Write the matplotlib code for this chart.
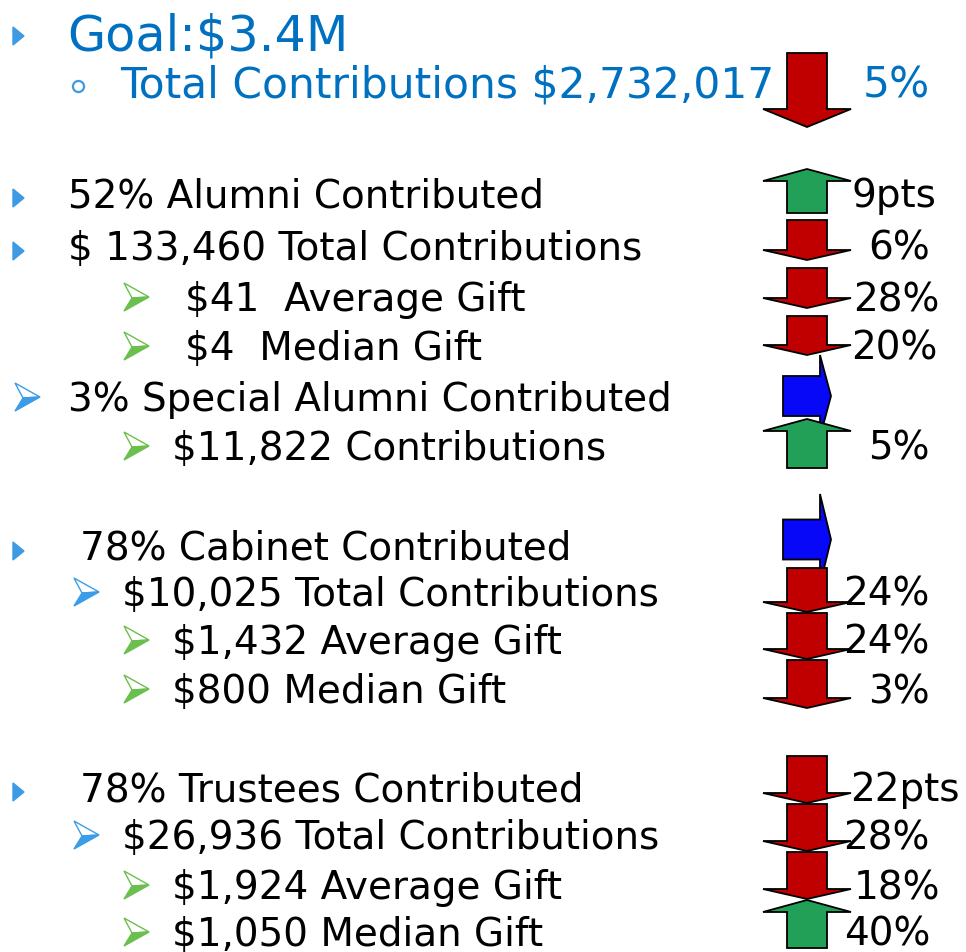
import matplotlib.pyplot as plt
from matplotlib.patches import Polygon

# ---- data ----
title = "Goal:$3.4M"
total_line = "Total Contributions $2,732,017"
total_change = "5%"

labels = [
    "52% Alumni Contributed",
    "$ 133,460 Total Contributions",
    "$41  Average Gift",
    "$4  Median Gift",
    "3% Special Alumni Contributed",
    "$11,822 Contributions",
    "78% Cabinet Contributed",
    "$10,025 Total Contributions",
    "$1,432 Average Gift",
    "$800 Median Gift",
    "78% Trustees Contributed",
    "$26,936 Total Contributions",
    "$1,924 Average Gift",
    "$1,050 Median Gift",
]
changes = ["9pts", "6%", "28%", "20%", "", "5%",
           "", "24%", "24%", "3%",
           "22pts", "28%", "18%", "40%"]
# bullet style per line: tri = blue triangle, blue / green = arrowhead
bullets = ["tri", "tri", "green", "green", "blue", "green",
           "tri", "blue", "green", "green",
           "tri", "blue", "green", "green"]
# trend arrows on the right, top to bottom
arrow_dirs = ["down", "up", "down", "down", "down", "right", "up",
              "right", "down", "down", "down",
              "down", "down", "down", "up"]

# ---- layout (pixel coords) ----
W, H = 966, 952
baselines = [207, 260, 311, 360, 411, 460, 560, 606, 654, 703, 801, 849, 899, 946]
text_x = [68, 68, 185, 185, 68, 172, 80, 122, 172, 172, 80, 122, 172, 172]
bullet_x = [13, 13, 124, 124, 15, 124, 13, 74, 124, 124, 13, 74, 124, 124]
change_x = [936, 930, 940, 937, 0, 930, 0, 930, 930, 930, 960, 930, 940, 930]
# (top, bottom) for each trend arrow
arrow_spans = [(53, 127), (169, 213), (220, 260), (268, 308), (316, 355),
               (355, 437), (419, 468),
               (494, 585), (568, 612), (613, 659), (660, 708),
               (756, 803), (804, 851), (852, 899), (900, 948)]

RED = "#C00000"
GREEN = "#23A058"
BLUE_ARROW = "#0808F8"
TITLE_BLUE = "#0070C0"
TRI_BLUE = "#3E9BE3"
BUL_BLUE = "#3B9DE8"
BUL_GREEN = "#6BBF4E"
FS = 28

fig = plt.figure(figsize=(W / 100, H / 100), dpi=100)
ax = fig.add_axes([0, 0, 1, 1])
ax.set_xlim(0, W)
ax.set_ylim(H, 0)
ax.axis("off")


def triangle(x, yc, color, w=11, h=9):
    pts = [(x, yc - h), (x + w, yc), (x, yc + h)]
    ax.add_patch(Polygon(pts, closed=True, color=color, zorder=3))


def arrowhead(x, yc, color):
    # 3-D lit arrowhead: outlined upper half, filled lower half
    tip = (x + 25, yc)
    notch = (x + 8, yc + 1)
    ax.add_patch(Polygon([(x, yc - 14), tip, notch], closed=True,
                         facecolor="white", edgecolor=color, lw=1.0, zorder=3))
    ax.add_patch(Polygon([notch, tip, (x, yc + 14)], closed=True,
                         facecolor=color, edgecolor=color, lw=1.0, zorder=3))


def trend_arrow(direction, top, bottom, cx=807):
    sw, hw = 20, 44
    if direction == "down":
        hl = 18 if bottom - top > 60 else 10
        pts = [(cx - sw, top), (cx + sw, top), (cx + sw, bottom - hl),
               (cx + hw, bottom - hl), (cx, bottom), (cx - hw, bottom - hl),
               (cx - sw, bottom - hl)]
        color = RED
    elif direction == "up":
        hl = 12
        pts = [(cx - sw, bottom), (cx + sw, bottom), (cx + sw, top + hl),
               (cx + hw, top + hl), (cx, top), (cx - hw, top + hl),
               (cx - sw, top + hl)]
        color = GREEN
    else:
        mid = (top + bottom) / 2
        x0, x1, tip = 783, 820, 831
        pts = [(x0, mid - 20), (x1, mid - 20), (x1, top), (tip, mid),
               (x1, bottom), (x1, mid + 20), (x0, mid + 20)]
        color = BLUE_ARROW
    ax.add_patch(Polygon(pts, closed=True, facecolor=color, edgecolor="black",
                         linewidth=1.3, zorder=2))


# header
triangle(13, 36, TRI_BLUE)
ax.text(67, 50, title, fontsize=35.5, color=TITLE_BLUE, va="baseline")
ax.plot([78], [86], marker="o", ms=8, mfc="none", mec=TRI_BLUE, mew=1.6)
ax.text(120, 98, total_line, fontsize=30.5, color=TITLE_BLUE, va="baseline")

for d, (t, b) in zip(arrow_dirs, arrow_spans):
    trend_arrow(d, t, b)

ax.text(930, 98, total_change, fontsize=30.5, color=TITLE_BLUE, va="baseline",
        ha="right", zorder=4)

for lab, ch, bul, y, tx, bx, cx in zip(labels, changes, bullets, baselines,
                                       text_x, bullet_x, change_x):
    if bul == "tri":
        triangle(bx, y - 9, TRI_BLUE)
    else:
        arrowhead(bx, y - 14, BUL_BLUE if bul == "blue" else BUL_GREEN)
    ax.text(tx, y, lab, fontsize=FS, color="black", va="baseline")
    if ch:
        ax.text(cx, y, ch, fontsize=FS, color="black", va="baseline",
                ha="right", zorder=4)

fig.savefig("out.png", dpi=100)
